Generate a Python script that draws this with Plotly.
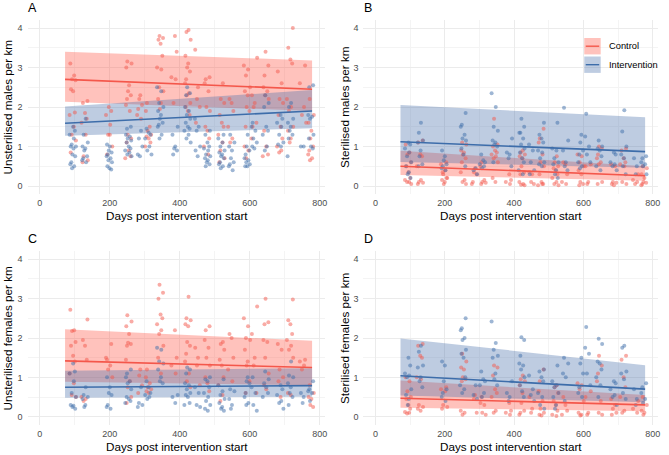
import plotly.graph_objects as go

# ---------------- data ----------------
days = [94, 128, 198, 253, 285, 310, 344, 385, 422, 450,
        478, 519, 547, 592, 612, 646, 687, 715, 752, 774]
jitter = [-7, 4, -2, 8, -5, 1, 6, -9, 3, -3, 9, -6, 2, -1, 7, -4]

A_ctrl = [
    [3.1, 2.8, 2.7, 2.68, 2.45, 2.4, 1.86, 1.8, 1.5, 1.3, 1.15, 0.85],
    [2.15, 2.1, 1.85, 1.7, 1.6, 1.3, 0.75, 0.65, 0.6],
    [1.9, 1.8, 1.55, 1.3, 1.0, 0.8, 1.3, 2.0],
    [3.15, 3.1, 3.0, 2.55, 2.4, 2.3, 2.2, 2.05, 1.9, 1.3, 1.2, 1.1, 0.9, 0.75, 0.7],
    [2.3, 2.2, 2.05, 1.95, 1.8, 1.7],
    [2.1, 1.9, 1.5, 1.4, 1.3, 1.25, 1.2, 1.1, 1.0],
    [3.8, 3.75, 3.7, 3.6, 3.3, 3.0, 2.95, 2.5, 2.4, 2.2, 2.1, 1.95],
    [3.8, 3.4, 2.75, 2.7, 2.1],
    [3.95, 3.9, 3.7, 3.3, 3.1, 3.0, 2.9, 2.7, 2.6, 2.35, 2.3, 2.1, 2.0, 1.9, 1.8],
    [3.45, 2.5, 2.2, 2.0, 1.6],
    [2.75, 2.7, 2.6, 2.4, 2.0, 1.9, 1.5, 1.4, 1.2, 1.0, 0.8],
    [2.6, 2.2, 2.1, 1.8, 1.6, 1.5, 1.3, 1.1, 0.9, 0.7, 0.6],
    [2.2, 2.1, 1.9, 1.5, 1.2, 1.1],
    [3.05, 2.95, 2.8, 2.5, 2.4, 2.3, 2.0, 1.9, 1.5, 1.0, 0.9, 0.7],
    [3.25, 2.3, 2.1, 2.0, 1.6, 1.5, 1.2],
    [3.4, 3.05, 2.8, 2.5, 2.4, 2.3, 2.2, 1.4, 1.0, 0.8, 0.75],
    [2.9, 2.6, 2.2, 2.1, 1.8, 1.5, 1.2, 1.0, 0.9, 0.85],
    [4.0, 3.5, 3.2, 3.1, 2.2, 2.0, 1.9, 1.5, 1.4, 1.2, 1.1],
    [3.05, 2.6, 2.0, 1.8, 1.6],
    [2.2, 1.8, 1.6, 1.4, 1.2, 1.0, 0.9, 0.8, 0.7, 0.65],
]
A_int = [
    [1.5, 1.4, 1.3, 1.2, 1.05, 1.0, 1.0, 0.95, 0.8, 0.75, 0.6, 0.55, 0.5, 0.45],
    [1.7, 1.3, 1.1, 1.0, 0.95, 0.9, 0.75, 0.7, 0.65, 0.6],
    [1.05, 1.0, 0.9, 0.85, 0.8, 0.75, 0.7, 0.65, 0.6, 0.5, 0.45, 0.42],
    [1.5, 1.45, 1.3, 1.25, 1.2, 1.15, 1.1, 1.0, 0.95, 0.9, 0.85, 0.8, 0.75],
    [1.4, 1.2, 1.0, 0.8, 0.75],
    [1.45, 1.35, 1.3, 1.2, 1.0, 0.9, 0.8],
    [2.5, 2.4, 2.1, 2.0, 1.9, 1.8, 1.7, 1.6, 1.55, 1.5, 1.3, 1.2],
    [1.5, 1.3, 1.0, 0.95, 0.9, 0.8],
    [2.5, 2.35, 2.3, 2.0, 1.9, 1.8, 1.7, 1.6, 1.5, 1.45, 1.4, 1.3, 1.2, 1.1],
    [1.7, 1.5, 1.4, 1.0, 0.9, 0.75],
    [1.4, 1.3, 1.1, 1.0, 0.95, 0.9, 0.8, 0.75, 0.7, 0.65, 0.6, 0.55, 0.5],
    [1.3, 1.2, 1.1, 1.0, 0.9, 0.85, 0.8, 0.75, 0.7, 0.6, 0.55, 0.5, 0.45],
    [1.3, 1.1, 1.0, 0.9, 0.7, 0.6, 0.55, 0.5, 0.4],
    [1.3, 1.0, 0.9, 0.8, 0.7, 0.65, 0.6, 0.55, 0.5, 0.5],
    [1.6, 1.5, 1.4, 1.2, 1.1, 1.0, 0.95],
    [2.3, 2.1, 2.0, 1.5, 1.4, 1.3, 1.0, 0.9],
    [1.8, 1.7, 1.6, 1.5, 1.3, 1.1, 1.05, 1.0],
    [2.1, 2.0, 1.7, 1.6, 1.5, 1.4, 1.3, 1.2, 0.75],
    [1.0, 1.0],
    [2.55, 2.5, 1.8, 1.75, 1.7, 1.3, 1.2, 1.0, 0.95],
]
B_ctrl = [
    [1.05, 0.85, 0.8, 0.6, 0.5, 0.35, 0.2, 0.15, 0.1, 0.1, 0.05],
    [1.15, 1.1, 0.8, 0.75, 0.5, 0.15, 0.1, 0.08, 0.05],
    [0.6, 0.55, 0.4, 0.3, 0.2, 0.15, 0.1, 0.05, 0.2, 0.35],
    [1.1, 1.05, 0.9, 0.85, 0.8, 0.7, 0.6, 0.35, 0.15, 0.1, 0.05],
    [0.45, 0.35, 0.3, 0.1, 0.05],
    [0.6, 0.5, 0.15, 0.1, 0.08, 0.05],
    [1.7, 1.05, 1.0, 0.9, 0.85, 0.8, 0.75, 0.7, 0.6, 0.2, 0.1],
    [0.3, 0.15, 0.1, 0.05],
    [0.9, 0.85, 0.8, 0.75, 0.7, 0.5, 0.35, 0.3, 0.1, 0.05, 0.03, 0.02],
    [0.35, 0.3, 0.1, 0.05],
    [1.45, 1.2, 1.1, 0.8, 0.6, 0.5, 0.3, 0.1, 0.05, 0.02, 0.05],
    [0.75, 0.6, 0.5, 0.45, 0.4, 0.3, 0.2, 0.1, 0.05, 0.02],
    [0.6, 0.55, 0.3, 0.1, 0.05],
    [0.8, 0.75, 0.6, 0.5, 0.4, 0.3, 0.1, 0.05, 0.02],
    [0.55, 0.5, 0.1, 0.05],
    [1.0, 0.95, 0.8, 0.7, 0.6, 0.55, 0.1, 0.05],
    [0.55, 0.5, 0.1, 0.08, 0.05, 0.02],
    [0.95, 0.9, 0.7, 0.6, 0.55, 0.5, 0.1, 0.05],
    [0.3, 0.15, 0.1, 0.05],
    [0.5, 0.45, 0.3, 0.2, 0.1, 0.08, 0.05, 0.02],
]
B_int = [
    [1.1, 1.05, 0.95, 0.85, 0.75, 0.6, 0.5, 0.35, 0.3, 0.2],
    [1.6, 1.35, 1.15, 1.1, 0.9, 0.75, 0.55, 0.5],
    [0.9, 0.75, 0.65, 0.55, 0.5, 0.45, 0.4],
    [1.85, 1.55, 1.5, 1.3, 1.2, 1.15, 0.95, 0.8, 0.5],
    [0.45, 0.4, 0.3],
    [0.8, 0.65, 0.6, 0.55, 0.5, 0.45],
    [2.35, 2.0, 1.5, 1.4, 1.15, 1.1, 1.05, 1.0, 0.6],
    [1.2, 0.85, 0.8, 0.7, 0.5],
    [1.7, 1.5, 1.35, 1.35, 1.2, 1.05, 0.95, 0.85, 0.7, 0.6, 0.4, 0.3],
    [1.05, 0.9, 0.6, 0.4, 0.3],
    [1.6, 1.3, 1.2, 1.1, 0.9, 0.85, 0.7, 0.6, 0.55, 0.5],
    [1.6, 0.95, 0.9, 0.7, 0.6, 0.55, 0.4, 0.3, 0.2],
    [1.98, 1.15, 0.9, 0.6, 0.5, 0.4],
    [1.3, 1.1, 0.9, 0.8, 0.6, 0.5, 0.45],
    [1.83, 1.25, 1.0, 0.8, 0.6],
    [1.15, 1.0, 0.95, 0.9, 0.75, 0.5, 0.4],
    [0.85, 0.8, 0.6, 0.55, 0.5, 0.4],
    [1.92, 1.38, 1.0, 0.8, 0.7, 0.5, 0.3],
    [0.7, 0.5, 0.3],
    [0.75, 0.7, 0.6, 0.55, 0.5, 0.3],
]
C_ctrl = [
    [2.72, 2.2, 2.18, 1.9, 1.8, 1.55, 1.4, 1.1, 0.85, 0.55, 0.5],
    [2.47, 1.95, 1.8, 1.45, 0.5, 0.45, 0.4],
    [1.85, 1.5, 1.3, 1.2, 1.0, 1.45],
    [2.58, 2.42, 2.3, 2.1, 1.88, 1.85, 1.8, 1.45, 0.9, 0.75, 0.5, 0.35],
    [1.2, 1.05, 0.8, 0.6],
    [1.2, 1.0, 0.85, 0.75, 0.7, 0.65, 0.6],
    [3.35, 3.15, 3.0, 2.6, 2.5, 2.35, 2.2, 2.1, 1.8, 1.5, 1.1],
    [2.2, 1.5, 1.3, 1.1],
    [3.05, 2.5, 2.45, 2.35, 2.3, 1.9, 1.8, 1.6, 1.4, 1.1, 0.9, 0.75],
    [1.75, 1.5, 1.3, 0.8],
    [2.3, 2.2, 1.95, 1.75, 1.5, 1.3, 1.0, 0.85, 0.65],
    [1.9, 1.85, 1.7, 1.45, 1.3, 1.0, 0.8, 0.55, 0.4],
    [2.1, 2.0, 1.5, 1.2, 0.9],
    [2.5, 2.3, 2.0, 1.95, 1.7, 1.4, 1.3, 0.9, 0.6],
    [2.8, 2.1, 1.5, 1.3, 0.6],
    [3.0, 2.4, 2.35, 1.95, 1.9, 1.5, 1.1, 0.8, 0.7],
    [1.85, 1.7, 1.2, 1.0, 0.9, 0.5],
    [2.98, 2.45, 2.35, 2.1, 1.95, 1.8, 1.7, 1.5, 0.6, 0.55],
    [1.45, 1.4, 1.3, 1.2],
    [0.8, 0.6, 0.5, 0.45, 0.3, 0.25],
]
C_int = [
    [1.35, 1.15, 1.1, 0.9, 0.6, 0.5, 0.3, 0.28, 0.25, 0.2],
    [0.75, 0.55, 0.5, 0.45, 0.3, 0.25],
    [1.0, 0.75, 0.6, 0.55, 0.3, 0.25, 0.2],
    [1.2, 1.1, 1.0, 0.9, 0.85, 0.7, 0.5, 0.45, 0.4, 0.35],
    [0.75, 0.35, 0.3, 0.25],
    [0.9, 0.75, 0.6, 0.55, 0.5, 0.45],
    [1.75, 1.7, 1.4, 1.35, 1.2, 1.0, 0.9, 0.85],
    [0.55, 0.5, 0.35],
    [1.25, 1.2, 1.1, 0.85, 0.8, 0.7, 0.6, 0.55, 0.5, 0.35, 0.3],
    [0.75, 0.6, 0.3, 0.25],
    [1.0, 0.95, 0.9, 0.75, 0.6, 0.5, 0.4, 0.3, 0.2, 0.15],
    [0.95, 0.8, 0.65, 0.55, 0.45, 0.35, 0.25, 0.2, 0.15],
    [0.7, 0.65, 0.45, 0.3, 0.2],
    [1.0, 0.9, 0.85, 0.6, 0.5, 0.35, 0.3],
    [1.0, 0.75, 0.6, 0.3, 0.15],
    [1.15, 0.95, 0.85, 0.75, 0.6, 0.5],
    [0.8, 0.7, 0.55, 0.4, 0.35, 0.2],
    [1.4, 1.05, 1.0, 0.85, 0.75, 0.6, 0.5, 0.3],
    [0.6, 0.5, 0.35],
    [0.9, 0.7, 0.65, 0.6, 0.4],
]
D_ctrl = [
    [1.0, 0.9, 0.65, 0.5, 0.45, 0.3, 0.2, 0.12, 0.1, 0.08],
    [1.85, 1.8, 1.55, 1.5, 1.0, 0.95, 0.3, 0.25, 0.2, 0.15],
    [0.75, 0.7, 0.65, 0.3, 0.25, 0.2],
    [1.6, 1.4, 1.25, 1.2, 1.0, 0.95, 0.9, 0.15, 0.1, 0.05],
    [0.55, 0.45, 0.1],
    [0.5, 0.35, 0.3, 0.1, 0.05],
    [1.3, 1.25, 1.05, 0.7, 0.6, 0.5, 0.15, 0.1],
    [0.35, 0.15, 0.1, 0.05],
    [1.05, 0.95, 0.9, 0.8, 0.6, 0.35, 0.15, 0.1, 0.05],
    [0.5, 0.2, 0.1],
    [1.2, 0.9, 0.65, 0.4, 0.2, 0.1, 0.05, 0.03],
    [0.8, 0.75, 0.6, 0.4, 0.3, 0.15, 0.05, 0.02],
    [0.5, 0.3, 0.15, 0.05],
    [0.85, 0.8, 0.7, 0.4, 0.1, 0.05, 0.03],
    [0.65, 0.5, 0.1, 0.05],
    [1.55, 1.3, 1.1, 0.9, 0.4, 0.1, 0.05],
    [0.45, 0.3, 0.2, 0.1, 0.05],
    [1.55, 1.45, 1.0, 0.75, 0.5, 0.15, 0.1],
    [0.4, 0.2, 0.1],
    [0.5, 0.3, 0.15, 0.1, 0.05],
]
D_int = [
    [1.5, 1.3, 1.1, 1.05, 1.0, 0.7, 0.55, 0.45, 0.3],
    [1.8, 1.65, 1.3, 1.25, 1.0, 0.9, 0.75],
    [1.4, 1.3, 0.9, 0.7, 0.6, 0.5, 0.4],
    [2.5, 2.25, 2.2, 2.0, 1.95, 1.7, 1.6, 1.5, 1.0, 0.8, 0.7, 0.6],
    [0.8, 0.55, 0.45],
    [1.15, 0.95, 0.9, 0.8, 0.6, 0.5],
    [2.42, 1.87, 1.7, 1.55, 1.5, 1.1, 0.95, 0.8],
    [0.9, 0.6, 0.5, 0.4],
    [2.02, 1.95, 1.55, 1.35, 1.3, 1.2, 1.0, 0.8, 0.65, 0.5],
    [1.05, 0.7, 0.55, 0.4],
    [1.2, 1.15, 1.0, 0.9, 0.6, 0.5, 0.3, 0.2],
    [1.3, 0.9, 0.8, 0.75, 0.6, 0.5, 0.3, 0.2],
    [1.5, 1.35, 1.1, 1.0, 0.4],
    [1.5, 1.35, 1.1, 0.75, 0.6, 0.5],
    [2.28, 1.75, 1.6, 1.1, 0.8],
    [1.98, 1.85, 1.4, 1.35, 1.2, 1.0, 0.8, 0.5],
    [0.9, 0.85, 0.7, 0.55, 0.5, 0.3],
    [1.8, 1.75, 1.15, 1.1, 0.95, 0.6, 0.45],
    [0.7, 0.45, 0.3],
    [0.85, 0.75, 0.6, 0.45, 0.35],
]

# model fits (start/end of fitted line and its interval)
fit_x = [72, 778]
A_ctrl_fit, A_ctrl_lo, A_ctrl_hi = [2.70, 2.45], [2.13, 1.90], [3.40, 3.18]
A_int_fit, A_int_lo, A_int_hi = [1.59, 1.90], [1.27, 1.46], [2.01, 2.43]
B_ctrl_fit, B_ctrl_lo, B_ctrl_hi = [0.50, 0.26], [0.28, 0.13], [0.89, 0.50]
B_int_fit, B_int_lo, B_int_hi = [1.12, 0.87], [0.61, 0.46], [2.05, 1.74]
C_ctrl_fit, C_ctrl_lo, C_ctrl_hi = [1.42, 1.25], [0.89, 0.80], [2.22, 1.93]
C_int_fit, C_int_lo, C_int_hi = [0.75, 0.79], [0.48, 0.51], [1.17, 1.23]
D_ctrl_fit, D_ctrl_lo, D_ctrl_hi = [0.47, 0.30], [0.23, 0.14], [0.92, 0.55]
D_int_fit, D_int_lo, D_int_hi = [1.04, 0.70], [0.54, 0.37], [1.99, 1.31]

panel_labels = ["A", "B", "C", "D"]
y_titles = ["Unsterilised males per km", "Sterilised males per km",
            "Unsterilised females per km", "Sterilised females per km"]
x_title = "Days post intervention start"
groups = ["Control", "Intervention"]
x_ticks = [0, 200, 400, 600, 800]
y_ticks = [0, 1, 2, 3, 4]

# ---------------- styling ----------------
W, H = 669, 455
FONT = "Liberation Sans, Arial, Helvetica, sans-serif"
RED, BLUE = "#F4574B", "#3D6DAA"
RED_PT, BLUE_PT = "rgba(244,87,75,0.5)", "rgba(61,109,170,0.5)"
RED_RIB, BLUE_RIB = "rgba(255,95,80,0.38)", "rgba(70,110,170,0.35)"

# pixel layout of the 4 panels (x0, x1, ytop, ybottom)
px = [(27.7, 326.0, 20.1, 193.9), (364.5, 659.9, 20.1, 193.9),
      (27.7, 326.0, 251.4, 424.6), (364.5, 659.9, 251.4, 424.6)]

panels = [
    (A_ctrl, A_int, (A_ctrl_fit, A_ctrl_lo, A_ctrl_hi), (A_int_fit, A_int_lo, A_int_hi)),
    (B_ctrl, B_int, (B_ctrl_fit, B_ctrl_lo, B_ctrl_hi), (B_int_fit, B_int_lo, B_int_hi)),
    (C_ctrl, C_int, (C_ctrl_fit, C_ctrl_lo, C_ctrl_hi), (C_int_fit, C_int_lo, C_int_hi)),
    (D_ctrl, D_int, (D_ctrl_fit, D_ctrl_lo, D_ctrl_hi), (D_int_fit, D_int_lo, D_int_hi)),
]

fig = go.Figure()
layout = dict(width=W, height=H, margin=dict(l=0, r=0, t=0, b=0),
              paper_bgcolor="white", plot_bgcolor="white", showlegend=False,
              font=dict(family=FONT), annotations=[], shapes=[])


def flat(clusters, shift):
    xs, ys = [], []
    for k, (d, vals) in enumerate(zip(days, clusters)):
        for i, v in enumerate(vals):
            xs.append(d + jitter[(i + k * 3 + shift) % len(jitter)])
            ys.append(v)
    return xs, ys


for p, (ctrl, intv, fc, fi) in enumerate(panels):
    sfx = "" if p == 0 else str(p + 1)
    xa, ya = "x" + sfx, "y" + sfx
    x0, x1, yt, yb = px[p]
    layout["xaxis" + sfx] = dict(
        domain=[x0 / W, x1 / W], anchor=ya, range=[-35, 815],
        tickvals=x_ticks, showgrid=True, gridcolor="#EBEBEB", gridwidth=1,
        minor=dict(dtick=100, tick0=0, showgrid=True, gridcolor="#F4F4F4", gridwidth=0.7),
        zeroline=False, showline=False, ticks="",
        tickfont=dict(size=9, color="#4D4D4D", family=FONT), ticklabelstandoff=2)
    layout["yaxis" + sfx] = dict(
        domain=[1 - yb / H, 1 - yt / H], anchor=xa, range=[-0.2, 4.2],
        tickvals=y_ticks, showgrid=True, gridcolor="#EBEBEB", gridwidth=1,
        minor=dict(dtick=0.5, tick0=0, showgrid=True, gridcolor="#F4F4F4", gridwidth=0.7),
        zeroline=False, showline=False, ticks="",
        tickfont=dict(size=9, color="#4D4D4D", family=FONT), ticklabelstandoff=4)

    # ribbons
    for (fit, lo, hi), col in ((fc, RED_RIB), (fi, BLUE_RIB)):
        fig.add_trace(go.Scatter(
            x=[fit_x[0], fit_x[1], fit_x[1], fit_x[0], fit_x[0]],
            y=[lo[0], lo[1], hi[1], hi[0], lo[0]],
            fill="toself", fillcolor=col, mode="none",
            xaxis=xa, yaxis=ya, hoverinfo="skip"))
    # points
    for clusters, col, shift in ((ctrl, RED_PT, 0), (intv, BLUE_PT, 5)):
        xs, ys = flat(clusters, shift)
        fig.add_trace(go.Scatter(
            x=xs, y=ys, mode="markers",
            marker=dict(size=4, color=col, line=dict(width=0)),
            xaxis=xa, yaxis=ya))
    # fitted lines
    for (fit, lo, hi), col in ((fc, RED), (fi, BLUE)):
        fig.add_trace(go.Scatter(
            x=fit_x, y=fit, mode="lines", line=dict(color=col, width=1.6),
            xaxis=xa, yaxis=ya))

    cx = (x0 + x1) / 2
    # panel letter
    layout["annotations"].append(dict(
        text=panel_labels[p], x=(x0 - 1.5) / W, y=1 - (yt - 12) / H,
        xref="paper", yref="paper", xanchor="left", yanchor="middle",
        showarrow=False, font=dict(size=12.5, color="black", family=FONT)))
    # x title
    layout["annotations"].append(dict(
        text=x_title, x=(cx + 0.5) / W, y=1 - (yb + 21.5) / H,
        xref="paper", yref="paper", xanchor="center", yanchor="middle",
        showarrow=False, font=dict(size=11.7, color="black", family=FONT)))
    # y title
    ytx = 7.5 if p in (0, 2) else 345.0
    layout["annotations"].append(dict(
        text=y_titles[p], x=ytx / W, y=1 - ((yt + yb) / 2) / H,
        xref="paper", yref="paper", xanchor="center", yanchor="middle",
        textangle=-90, showarrow=False,
        font=dict(size=11.7, color="black", family=FONT)))

# legend inside panel B (drawn as keys)
leg_rows = [(46.2, RED, RED_RIB), (64.7, BLUE, BLUE_RIB)]
for (cy, lc, fc_), name in zip(leg_rows, groups):
    layout["shapes"].append(dict(
        type="rect", xref="paper", yref="paper",
        x0=586 / W, x1=602.5 / W, y0=1 - (cy + 8.2) / H, y1=1 - (cy - 8.2) / H,
        fillcolor=fc_, line=dict(width=0), layer="above"))
    layout["shapes"].append(dict(
        type="line", xref="paper", yref="paper",
        x0=587.5 / W, x1=601 / W, y0=1 - cy / H, y1=1 - cy / H,
        line=dict(color=lc, width=1.4), layer="above"))
    layout["annotations"].append(dict(
        text=name, x=609 / W, y=1 - cy / H, xref="paper", yref="paper",
        xanchor="left", yanchor="middle", showarrow=False,
        font=dict(size=9.3, color="black", family=FONT)))

fig.update_layout(**layout)
fig.write_html("out.html")
